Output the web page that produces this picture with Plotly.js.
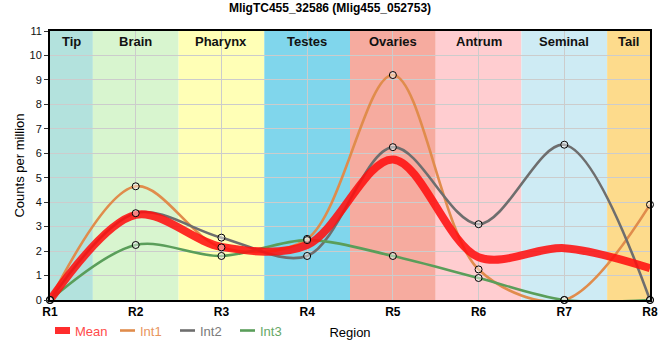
<!DOCTYPE html>
<html>
<head>
<meta charset="utf-8">
<script src="https://cdn.plot.ly/plotly-3.0.1.min.js"></script>
<style>html,body{margin:0;padding:0;background:#fff;}#chart{width:660px;height:360px;}</style>
</head>
<body>
<div id="chart"></div>
<script>
const regions = ["R1","R2","R3","R4","R5","R6","R7","R8"];
const bandNames = ["Tip","Brain","Pharynx","Testes","Ovaries","Antrum","Seminal","Tail"];
const bandColors = ["#b3e2dd","#d8f5cf","#ffffb6","#80d6ec","#f6ab9f","#ffcdd0","#ceebf4","#fddb8c"];
const meanVals = [0, 3.48, 2.17, 2.25, 5.75, 1.75, 2.12, 1.3];
const int1Vals = [0, 4.65, 2.15, 2.5, 9.2, 1.25, 0, 3.9];
const int2Vals = [0, 3.55, 2.55, 1.8, 6.25, 3.1, 6.35, 0];
const int3Vals = [0, 2.25, 1.8, 2.45, 1.8, 0.9, 0, 0];
const seriesNames = ["Mean","Int1","Int2","Int3"];
const lineColors = ["rgba(255,16,16,0.88)","#e08c4c","#6e6e6e","#5a9e5a"];
const legendTextColors = ["#ff4a4a","#e8955e","#7a7a7a","#66a866"];

const font = "Liberation Sans, Arial, sans-serif";
const traces = [];
const ints = [int1Vals, int2Vals, int3Vals];
ints.forEach((v, k) => {
  traces.push({x: regions, y: v, type: "scatter", mode: "lines",
    line: {shape: "spline", smoothing: 0.95, color: lineColors[k+1], width: 2.6},
    showlegend: false, hoverinfo: "skip"});
});
traces.push({x: regions, y: meanVals, type: "scatter", mode: "lines",
  line: {shape: "spline", smoothing: 0.95, color: lineColors[0], width: 8},
  showlegend: false, hoverinfo: "skip"});
ints.forEach((v, k) => {
  traces.push({x: regions, y: v, type: "scatter", mode: "markers",
    marker: {symbol: "circle", size: 7, color: "rgba(255,255,255,0.45)", line: {color: "#000", width: 1}},
    cliponaxis: false, showlegend: false, hoverinfo: "skip"});
});

const n = regions.length;
const shapes = [];
const annotations = [];
bandNames.forEach((b, i) => {
  const x0 = Math.max(i - 0.5, 0), x1 = Math.min(i + 0.5, n - 1);
  shapes.push({type: "rect", xref: "x", yref: "paper", x0: x0, x1: x1, y0: 0, y1: 1,
    fillcolor: bandColors[i], line: {width: 0}, layer: "below"});
  annotations.push({x: (x0 + x1) / 2, y: 1, xref: "x", yref: "paper", yanchor: "top", yshift: -1,
    text: "<b>" + b + "</b>", showarrow: false, font: {family: font, size: 13, color: "#111"}});
});

// custom legend (paper coords: plot spans px 50..650 horizontally, 31..300 vertically)
const px = p => (p - 50) / 600;
const py = p => (300 - p) / 269;
const legX = [55, 120, 180, 240];
seriesNames.forEach((s, k) => {
  if (k === 0) {
    shapes.push({type: "rect", xref: "paper", yref: "paper", x0: px(legX[k]), x1: px(legX[k] + 15),
      y0: py(334), y1: py(327), fillcolor: lineColors[0], line: {width: 0}});
  } else {
    shapes.push({type: "line", xref: "paper", yref: "paper", x0: px(legX[k]), x1: px(legX[k] + 15),
      y0: py(330.5), y1: py(330.5), line: {color: lineColors[k], width: 2.6}});
  }
  annotations.push({x: px(legX[k] + 18), y: py(331), xref: "paper", yref: "paper", xanchor: "left", yanchor: "middle",
    text: s, showarrow: false, font: {family: font, size: 13, color: legendTextColors[k]}});
});

const layout = {
  width: 660, height: 360,
  margin: {l: 50, r: 10, t: 31, b: 60},
  paper_bgcolor: "#fff", plot_bgcolor: "#fff",
  showlegend: false,
  title: {text: "<b>MligTC455_32586 (Mlig455_052753)</b>", x: 0.5, xref: "container", y: 0.977, yanchor: "middle",
    font: {family: font, size: 12, color: "#000"}},
  xaxis: {type: "category", range: [0, n - 1], showgrid: true, gridcolor: "#cccccc", gridwidth: 1,
    showline: true, linecolor: "#000", linewidth: 2, mirror: true, zeroline: false,
    ticks: "", tickfont: {family: font, size: 12, color: "#000", weight: "bold"},
    title: {text: "Region", standoff: 9, font: {family: font, size: 13, color: "#000"}}, automargin: false},
  yaxis: {range: [0, 11], dtick: 1, showgrid: true, gridcolor: "#cccccc", gridwidth: 1,
    showline: true, linecolor: "#000", linewidth: 2, mirror: true, zeroline: false,
    ticks: "outside", ticklen: 4, tickcolor: "#333",
    tickfont: {family: font, size: 11, color: "#111"},
    title: {text: "Counts per million", standoff: 2, font: {family: font, size: 13, color: "#000"}}, automargin: false},
  shapes: shapes,
  annotations: annotations
};
Plotly.newPlot("chart", traces, layout, {staticPlot: true, displayModeBar: false});
</script>
</body>
</html>
